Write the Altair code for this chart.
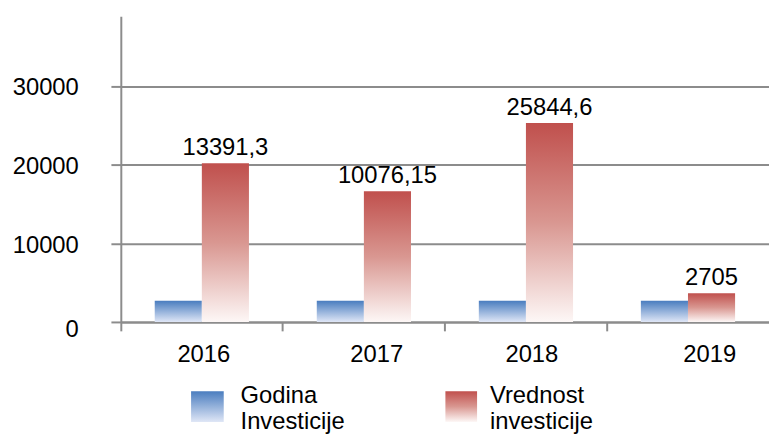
import altair as alt
import pandas as pd

# ---- data ----
years = ["2016", "2017", "2018", "2019"]
godina_values = [2680, 2680, 2680, 2680]          # blue bars (height as drawn)
vrednost_values = [20160, 16600, 25280, 3650]     # red bars (height as drawn)
vrednost_labels = ["13391,3", "10076,15", "25844,6", "2705"]
series_names = ["Godina", "Vrednost"]
legend_labels = ["Godina\nInvesticije", "Vrednost\ninvesticije"]
y_ticks = [0, 10000, 20000, 30000]

rows = []
for y, g, v in zip(years, godina_values, vrednost_values):
    rows.append({"year": y, "series": series_names[0], "value": g})
    rows.append({"year": y, "series": series_names[1], "value": v})
df = pd.DataFrame(rows)

lab_df = pd.DataFrame({
    "year": years,
    "series": [series_names[1]] * len(years),
    "value": vrednost_values,
    "label": vrednost_labels,
})

FONT = "Liberation Sans"
FS = 24
GRAY = "#8c8c8c"

blue_grad = alt.LinearGradient(
    gradient="linear", x1=0, y1=0, x2=0, y2=1,
    stops=[alt.GradientStop(offset=0, color="#4a7dbf"),
           alt.GradientStop(offset=1, color="#dfe6f6")])
red_grad = alt.LinearGradient(
    gradient="linear", x1=0, y1=0, x2=0, y2=1,
    stops=[alt.GradientStop(offset=0, color="#c0504d"),
           alt.GradientStop(offset=0.5, color="#d99791"),
           alt.GradientStop(offset=1, color="#fdf7f6")])

x_enc = alt.X(
    "year:N", sort=years, title=None,
    scale=alt.Scale(paddingInner=0, paddingOuter=0),
    axis=alt.Axis(
        bandPosition=0, labelAngle=0, tickSize=9, tickColor=GRAY, tickWidth=2,
        domainColor=GRAY, domainWidth=2, labelFont=FONT, labelFontSize=FS,
        labelColor="#000000", labelPadding=12, grid=False,
        labelOffset={"condition": [
            {"test": "datum.value == '2016'", "value": 2},
            {"test": "datum.value == '2017'", "value": 13},
            {"test": "datum.value == '2018'", "value": 6}],
            "value": 22},
    ),
)
y_enc = alt.Y(
    "value:Q", title=None,
    scale=alt.Scale(domain=[0, 38868], nice=False),
    axis=alt.Axis(
        values=y_ticks, format="d", tickSize=10, tickColor=GRAY, tickWidth=2,
        domainColor=GRAY, domainWidth=2, grid=True, gridColor=GRAY, gridWidth=2,
        labelFont=FONT, labelFontSize=FS, labelColor="#000000", labelPadding=33,
        labelOffset={"condition": {"test": "datum.value == 0", "value": 8}, "value": 2},
    ),
)
xoff = alt.XOffset("series:N", scale=alt.Scale(domain=series_names, paddingInner=0, paddingOuter=0.72))

base = alt.Chart(df)
blue = base.transform_filter(alt.datum.series == series_names[0]).mark_bar(
    fill=blue_grad).encode(x=x_enc, y=y_enc, xOffset=xoff)
red = base.transform_filter(alt.datum.series == series_names[1]).mark_bar(
    fill=red_grad).encode(x=x_enc, y=y_enc, xOffset=xoff)

labels = alt.Chart(lab_df).mark_text(
    font=FONT, fontSize=FS, color="#000000", baseline="alphabetic", dy=-8
).encode(x=x_enc, y=y_enc, xOffset=xoff, text="label:N")

leg1_df = pd.DataFrame({"label": [legend_labels[0]]})
leg2_df = pd.DataFrame({"label": [legend_labels[1]]})

leg1_sq = alt.Chart(leg1_df).mark_rect(fill=blue_grad).encode(
    x=alt.value(71), x2=alt.value(104), y=alt.value(379), y2=alt.value(410))
leg2_sq = alt.Chart(leg2_df).mark_rect(fill=red_grad).encode(
    x=alt.value(328), x2=alt.value(360), y=alt.value(379), y2=alt.value(410))
leg1_tx = alt.Chart(leg1_df).mark_text(
    font=FONT, fontSize=FS, color="#000000", align="left", baseline="alphabetic",
    lineBreak="\n", lineHeight=26).encode(x=alt.value(121), y=alt.value(391), text="label:N")
leg2_tx = alt.Chart(leg2_df).mark_text(
    font=FONT, fontSize=FS, color="#000000", align="left", baseline="alphabetic",
    lineBreak="\n", lineHeight=26).encode(x=alt.value(373), y=alt.value(391), text="label:N")

chart = alt.layer(blue, red, labels, leg1_sq, leg2_sq, leg1_tx, leg2_tx).properties(
    width=655, height=309,
    padding={"left": 114, "top": 6, "right": 0, "bottom": 112},
    autosize=alt.AutoSizeParams(type="none"),
    background="white",
).configure_view(stroke=None)

chart.save("out.html", embed_options={"renderer": "svg", "actions": False})
